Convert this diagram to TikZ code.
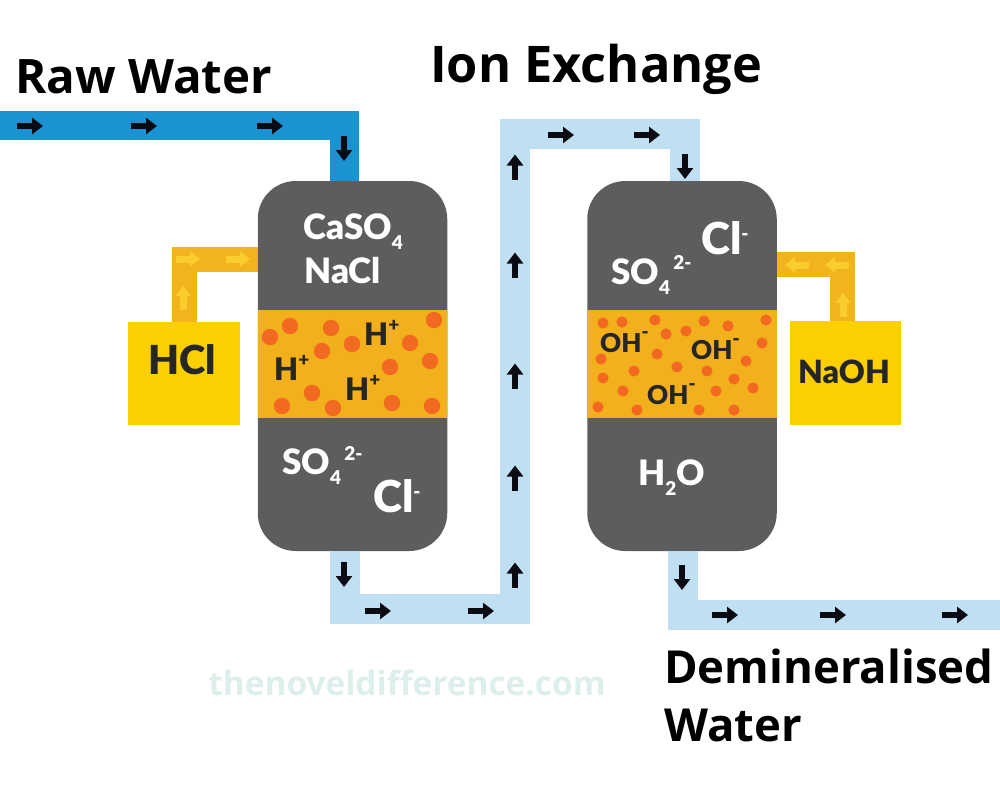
\documentclass[tikz,border=0pt]{standalone}
\usepackage{fontspec}
\setmainfont{Open Sans}
\newfontfamily\labelfont[BoldFont={Lato Black}]{Lato}
\usetikzlibrary{arrows.meta,positioning,calc}
\definecolor{rawblue}{HTML}{1B93D2}
\definecolor{paleblue}{HTML}{BFDFF3}
\definecolor{tankgrey}{HTML}{5D5D5F}
\definecolor{resinamber}{HTML}{F2B01C}
\definecolor{beadorange}{HTML}{F26A22}
\definecolor{reagentyellow}{HTML}{FCD000}
\definecolor{dosepipe}{HTML}{F1B41E}
\definecolor{doseflow}{HTML}{F9CE2C}
\definecolor{inkdark}{HTML}{0B0B14}
\definecolor{markmint}{HTML}{DDEFEC}
\newcommand{\ionlo}[1]{\raisebox{-10pt}{\fontsize{19}{19}\selectfont #1}}
\newcommand{\ionhi}[1]{\raisebox{14pt}{\fontsize{19}{19}\selectfont #1}}
\begin{document}
\begin{tikzpicture}[
  x=1pt, y=-1pt,
  heading/.style={font=\fontsize{47.5}{52}\selectfont\bfseries, text=black, inner sep=0pt},
  tankbody/.style={fill=tankgrey, rounded corners=38pt, minimum width=189.5pt, minimum height=370pt, inner sep=0pt},
  resin/.style={fill=resinamber, minimum width=189.5pt, minimum height=108pt, inner sep=0pt},
  reagent/.style={fill=reagentyellow, inner sep=0pt},
  ionwhite/.style={font=\labelfont\fontsize{35}{37}\selectfont\bfseries, text=white, inner sep=0pt},
  iondark/.style={font=\labelfont\fontsize{31}{33}\selectfont\bfseries, text=black!85, inner sep=0pt},
  rawpipe/.style={draw=rawblue, line width=29pt},
  softpipe/.style={draw=paleblue, line width=30pt},
  feedpipe/.style={draw=dosepipe, line width=25pt},
  flow/.style={draw=inkdark, line width=6pt, -{Triangle[length=11pt,width=16pt]}},
  doseflowtip/.style={draw=doseflow, line width=7pt, -{Triangle[length=10pt,width=15pt]}}
]
\useasboundingbox (0,0) rectangle (1000,800);

\coordinate (rawin) at (0,125.5);
\coordinate (riserbot) at (515,608.5);
\coordinate (risertop) at (515,134);
\coordinate (outlet) at (1000,615);

\node[tankbody] (tankA) at (352.5,366) {};
\node[tankbody] (tankB) at (682,366) {};
\node[reagent, minimum width=112pt, minimum height=103pt] (hcl) at (184,373.5) {};
\node[reagent, minimum width=111pt, minimum height=104pt] (naoh) at (845.5,373) {};

\draw[rawpipe] (rawin) -| ([xshift=-8pt]tankA.north);
\draw[softpipe] ([xshift=-8pt]tankA.south) |- (riserbot) -- (risertop) -| ([xshift=3pt]tankB.north);
\draw[softpipe] ([xshift=0.5pt]tankB.south) |- (outlet);
\draw[feedpipe] (hcl.north) |- ([yshift=106.5pt]tankA.west);
\draw[feedpipe] ([xshift=-3pt]naoh.north) |- ([yshift=101.5pt]tankB.east);

\node[resin] (resinA) at (352.5,364) {};
\node[resin] (resinB) at (682,364) {};

\foreach \x/\y in {270/337,290/326,331/328,352/344,322/351,410/343,434/320,430/361,
                   390/367,312/393,282/406,333/408,392/403,432/406}
  \fill[beadorange] (\x,\y) circle (8.2pt);
\foreach \x/\y in {603/323,622/322,655/320,704/321,728/326,766/320,666/334,686/331,
                   762/343,657/354,601/359,746/361,634/371,677/367,707/371,603/378,
                   734/379,753/388,623/391,716/391,598/407,637/410,699/410,734/410}
  \fill[beadorange] (\x,\y) circle (5.6pt);

\foreach \x/\y in {30/126,144/126,270/126,378/611,481/611,561/135,647/135,725/615,833/615,955/615}
  \draw[flow] (\x-13,\y) -- (\x+13,\y);
\foreach \x/\y in {344/136,344/562,685/154,682/565}
  \draw[flow] (\x,\y) -- (\x,\y+25);
\foreach \y in {167,265,376,478,575}
  \draw[flow] (515,\y+12.5) -- (515,\y-12.5);

\foreach \x/\y in {176/259,226/259}
  \draw[doseflowtip] (\x,\y) -- (\x+24,\y);
\draw[doseflowtip] (183,310) -- (183,286);
\foreach \x in {809,849}
  \draw[doseflowtip] (\x,265) -- (\x-24,265);
\draw[doseflowtip] (843,317) -- (843,293);

\node[heading, anchor=west] (rawlabel) at (15,77) {Raw Water};
\node[heading, anchor=west, font=\fontsize{50.5}{54}\selectfont\bfseries] (title) at (430,69) {Ion Exchange};
\node[heading, anchor=west, align=left, font=\fontsize{45.5}{58}\selectfont\bfseries] (productlabel) at (664,695) {Demineralised\\Water};
\node[font=\fontsize{33.4}{35}\selectfont\bfseries, text=markmint, inner sep=0pt] (watermark) at (407,683) {thenoveldifference.com};

\node[ionwhite, anchor=west] (caso) at (303,232) {CaSO\ionlo{4}};
\node[ionwhite, anchor=west] (nacl) at (304,271) {NaCl};
\node[ionwhite, anchor=west] (soA) at (282,465) {SO\ionlo{4}\ionhi{\,2-}};
\node[ionwhite, anchor=west, font=\labelfont\fontsize{44}{46}\selectfont\bfseries] (clA) at (373,496) {Cl\ionhi{-}};
\node[ionwhite, anchor=west, font=\labelfont\fontsize{44}{46}\selectfont\bfseries] (clB) at (701,238) {Cl\ionhi{-}};
\node[ionwhite, anchor=west] (soB) at (611,275) {SO\ionlo{4}\ionhi{\,2-}};
\node[ionwhite, anchor=west] (water) at (638,478) {H\ionlo{2}O};

\node[iondark, anchor=west] (hA) at (364,333) {H\ionhi{+}};
\node[iondark, anchor=west] (hB) at (274,368) {H\ionhi{+}};
\node[iondark, anchor=west] (hC) at (345,388) {H\ionhi{+}};
\node[iondark, anchor=west, font=\labelfont\fontsize{26}{28}\selectfont\bfseries] (ohA) at (600,342) {OH\ionhi{-}};
\node[iondark, anchor=west, font=\labelfont\fontsize{26}{28}\selectfont\bfseries] (ohB) at (691,349) {OH\ionhi{-}};
\node[iondark, anchor=west, font=\labelfont\fontsize{26}{28}\selectfont\bfseries] (ohC) at (647,394) {OH\ionhi{-}};

\node[iondark, font=\labelfont\fontsize{40}{42}\selectfont\bfseries] (hcltext) at (182,360) {HCl};
\node[iondark, font=\labelfont\fontsize{32}{34}\selectfont\bfseries] (naohtext) at (844,372) {NaOH};

\end{tikzpicture}
\end{document}
